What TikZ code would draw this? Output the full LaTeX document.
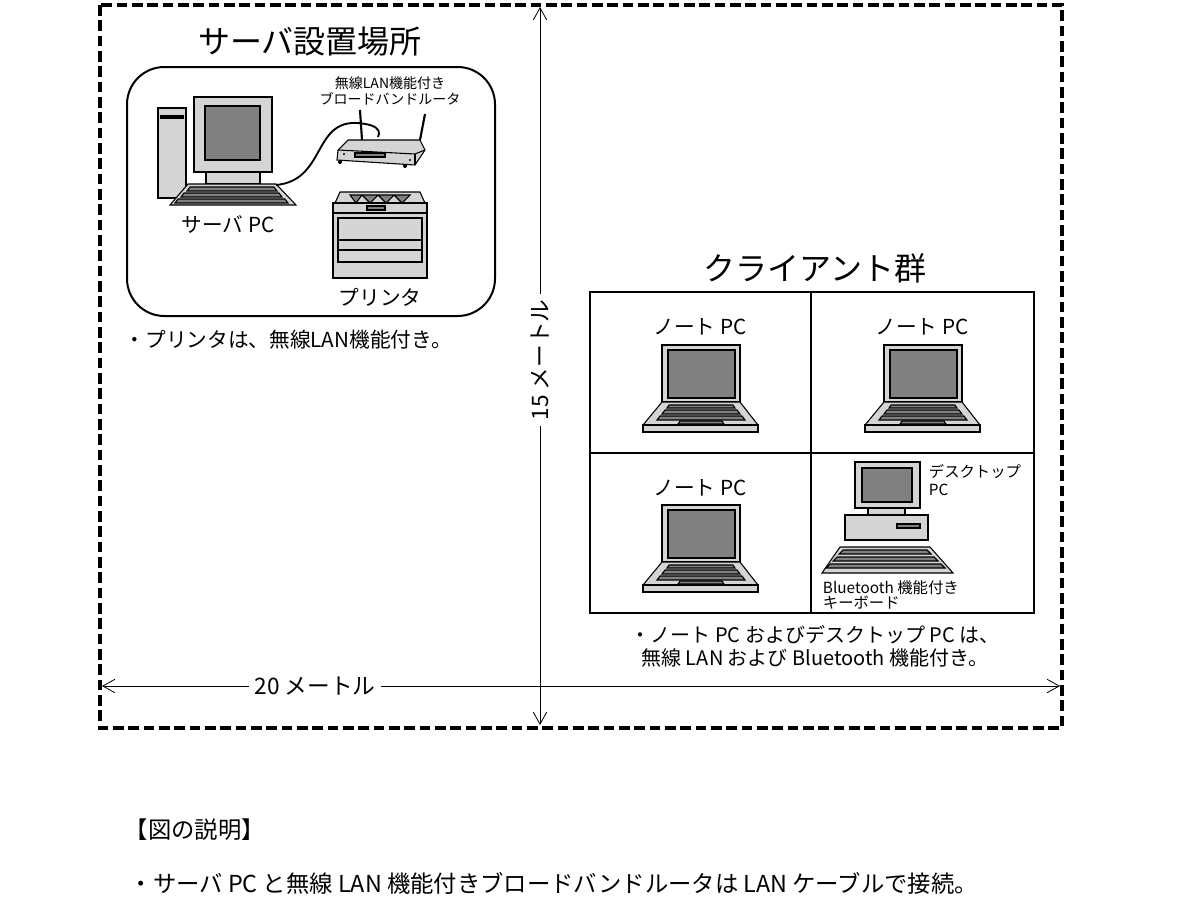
\documentclass[tikz,border=0pt]{standalone}
\usepackage{fontspec}
\setmainfont{Noto Sans CJK JP}
\usetikzlibrary{arrows.meta}
\begin{document}
\begin{tikzpicture}[x=0.75pt,y=-0.75pt,
  ln/.style={draw=black,line width=0.8pt},
  lg/.style={ln,fill=black!17},
  dg/.style={ln,fill=black!50},
  big/.style={font=\fontsize{24}{27}\selectfont},
  mid/.style={font=\fontsize{15.5}{18}\selectfont},
  sml/.style={font=\fontsize{10.5}{11.5}\selectfont,inner sep=0.5pt},
  dim/.style={draw=black,line width=0.6pt,-{Straight Barb[length=9pt,width=10pt]}},
  laptop/.pic={
    \draw[lg] (-38,-45) rectangle (40,12);
    \draw[dg] (-32,-40) rectangle (35,8);
    \draw[lg] (-38,12) -- (40,12) -- (58,35) -- (-57,35) -- cycle;
    \draw[lg] (-57,35) rectangle (58,42);
    \draw[dg] (-31,15) -- (33,15) -- (35,18) -- (-33,18) -- cycle;
    \draw[dg] (-35,20) -- (37,20) -- (40,24) -- (-38,24) -- cycle;
    \draw[dg] (-40,26) -- (42,26) -- (45,30) -- (-43,30) -- cycle;
    \draw[dg] (-20,31) -- (22,31) -- (24,34) -- (-22,34) -- cycle;
  }]
\useasboundingbox (0,0) rectangle (1200,900);
% outer dashed room
\draw[line width=2.6pt,dash pattern=on 8pt off 3.5pt] (100,5) rectangle (1062,728);
% dimension lines
\coordinate (vt) at (540,7); \coordinate (vb) at (540,725);
\coordinate (hl) at (102,686); \coordinate (hr) at (1060,686);
\node[font=\fontsize{17}{19}\selectfont,rotate=90,fill=white,inner sep=4pt] (vlab) at (540,360) {15 メートル};
\node[font=\fontsize{17}{19}\selectfont,fill=white,inner sep=4pt] (hlab) at (315,686) {20 メートル};
\draw[dim] (vlab.east) -- (vt);
\draw[dim] (vlab.west) -- (vb);
\draw[dim] (hlab.west) -- (hl);
\draw[dim] (hlab.east) -- (hr);
% server room
\node[big] (st) at (310,42) {サーバ設置場所};
\draw[line width=1.5pt,rounded corners=28pt] (127,67) rectangle (495,316);
\node[mid,anchor=west] (sn) at (120,340) {・プリンタは、無線LAN機能付き。};
% server PC
\draw[lg] (158,108) rectangle (186,198);
\fill (160,115) rectangle (184,119);
\draw[lg] (206,172) rectangle (260,184);
\draw[lg] (194,97) rectangle (272,172);
\draw[dg] (205,106) rectangle (260,160);
\draw[lg] (188,184) -- (276,184) -- (296,205) -- (170,205) -- cycle;
\draw[dg] (190,187) -- (274,187) -- (277,191) -- (187,191) -- cycle;
\draw[dg] (184,193) -- (279,193) -- (282,197) -- (181,197) -- cycle;
\draw[dg] (178,199) -- (285,199) -- (288,203) -- (175,203) -- cycle;
\node[mid] (spc) at (228,225) {サーバ PC};
% router
\draw[line width=1.6pt] (362,140) -- (360,110);
\draw[line width=1.6pt] (420,140) -- (425,114);
\draw[lg] (348,140) -- (420,140) -- (425,150) -- (415,165) -- (337,160) -- (338,150) -- cycle;
\draw[ln] (338,150) -- (415,154) -- (425,150);
\draw[ln] (415,154) -- (415,165);
\draw[dg] (355,153) rectangle (385,157);
\fill (344,154) circle (1.2) (410,160) circle (1.2) (340,162) circle(2) (405,166) circle(2);
\draw[line width=1.4pt] (276,185) .. controls (330,180) and (310,110) .. (370,125) .. controls (380,128) and (380,133) .. (378,137);
\node[sml,align=center] (rl) at (390,91) {無線LAN機能付き\\ブロードバンドルータ};
% printer
\draw[lg] (335,203) -- (340,192) -- (420,192) -- (425,203) -- cycle;
\draw[dg] (350,195) -- (356,203) -- (362,195) -- (370,203) -- (378,195) -- (386,203) -- (394,195) -- (402,203) -- (410,195) -- cycle;
\draw[lg] (333,203) rectangle (427,278);
\draw[ln] (333,213) -- (427,213);
\draw[dg] (367,206) rectangle (385,210);
\draw[ln] (338,218) rectangle (422,262);
\draw[ln] (338,240) -- (422,240) (338,250) -- (422,250);
\node[mid] (prn) at (380,297) {プリンタ};
% clients
\node[big] (ct) at (815,268) {クライアント群};
\draw[line width=1.5pt] (590,292) rectangle (1034,613);
\draw[line width=1.5pt] (811,292) -- (811,613) (590,453) -- (1034,453);
\node[mid] (l1) at (700,327) {ノート PC};
\node[mid] (l2) at (922,327) {ノート PC};
\node[mid] (l3) at (700,488) {ノート PC};
\pic at (700,390) {laptop};
\pic at (922,390) {laptop};
\pic at (700,550) {laptop};
% desktop
\draw[lg] (868,508) rectangle (905,515);
\draw[lg] (855,462) rectangle (920,508);
\draw[dg] (862,468) rectangle (912,502);
\draw[lg] (845,515) rectangle (928,540);
\draw[dg] (897,524) rectangle (920,528);
\draw[lg] (840,547) -- (930,547) -- (953,573) -- (822,573) -- cycle;
\draw[dg] (843,550) -- (927,550) -- (931,554) -- (839,554) -- cycle;
\draw[dg] (837,557) -- (934,557) -- (938,561) -- (833,561) -- cycle;
\draw[dg] (830,564) -- (941,564) -- (945,568) -- (826,568) -- cycle;
\node[sml,anchor=west,align=left,font=\fontsize{11.5}{13}\selectfont] (dl) at (928,480) {デスクトップ\\PC};
\node[sml,anchor=west,align=left,font=\fontsize{11.5}{11.5}\selectfont] (kb) at (822,595) {Bluetooth 機能付き\\キーボード};
\node[mid,align=center,font=\fontsize{15}{17}\selectfont] (cn) at (815,646) {・ノート PC およびデスクトップ PC は、\\無線 LAN および Bluetooth 機能付き。};
% caption
\node[font=\fontsize{17.5}{20}\selectfont,anchor=west] (c1) at (120,830) {【図の説明】};
\node[font=\fontsize{17.5}{20}\selectfont,anchor=west] (c2) at (125,883) {・サーバ PC と無線 LAN 機能付きブロードバンドルータは LAN ケーブルで接続。};
\end{tikzpicture}
\end{document}
